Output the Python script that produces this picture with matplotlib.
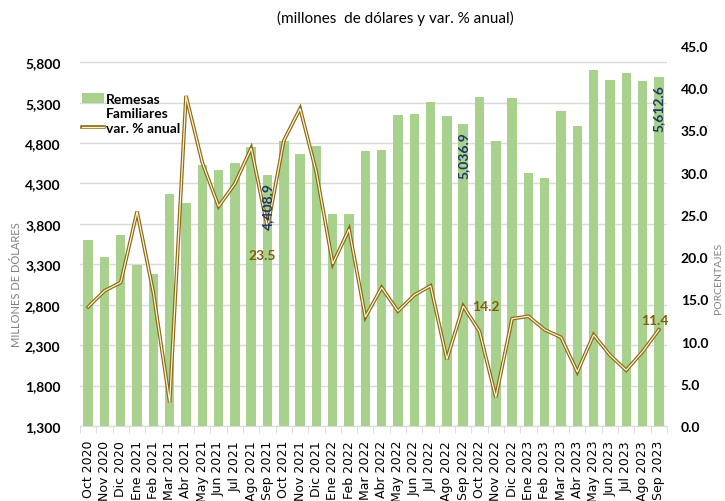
import matplotlib
matplotlib.use("Agg")
import matplotlib.pyplot as plt
from matplotlib.lines import Line2D
from matplotlib.patches import Patch
import numpy as np

months = ["Oct 2020", "Nov 2020", "Dic 2020", "Ene 2021", "Feb 2021", "Mar 2021",
          "Abr 2021", "May 2021", "Jun 2021", "Jul 2021", "Ago 2021", "Sep 2021",
          "Oct 2021", "Nov 2021", "Dic 2021", "Ene 2022", "Feb 2022", "Mar 2022",
          "Abr 2022", "May 2022", "Jun 2022", "Jul 2022", "Ago 2022", "Sep 2022",
          "Oct 2022", "Nov 2022", "Dic 2022", "Ene 2023", "Feb 2023", "Mar 2023",
          "Abr 2023", "May 2023", "Jun 2023", "Jul 2023", "Ago 2023", "Sep 2023"]

remesas = [3605, 3396, 3660, 3296, 3176, 4164, 4057, 4533, 4462, 4549, 4756, 4408.9,
           4830, 4666, 4760, 3925, 3920, 4701, 4718, 5148, 5156, 5309, 5132, 5036.9,
           5367, 4822, 5359, 4429, 4363, 5194, 5008, 5702, 5578, 5661, 5570, 5612.6]

var_anual = [14.1, 16.0, 17.0, 25.4, 15.8, 2.8, 39.1, 31.2, 26.0, 28.7, 32.9, 23.5,
             33.8, 37.6, 30.0, 19.2, 23.3, 12.9, 16.4, 13.6, 15.5, 16.6, 7.9, 14.2,
             11.2, 3.4, 12.7, 13.0, 11.4, 10.5, 6.4, 10.8, 8.4, 6.6, 8.8, 11.4]

left_ticks = list(range(1300, 5801, 500))
right_ticks = [0, 5, 10, 15, 20, 25, 30, 35, 40, 45]

bar_color = "#A9D18E"
gold = "#8B6914"
cream = "#FFF4D2"
blue = "#1F3864"
lab_gold = "#7F6000"

fig = plt.figure(figsize=(7.25, 5.02), dpi=100)
ax = fig.add_axes([80 / 725, 1 - 427 / 502, 587 / 725, 380 / 502])
ax2 = ax.twinx()

x = np.arange(len(months))
ax.bar(x, remesas, width=0.58, color=bar_color, zorder=2)
ax.set_ylim(1300, 6000)
ax.set_xlim(-0.5, len(months) - 0.5)
ax.set_yticks(left_ticks)
ax.set_yticklabels([f"{v:,}" for v in left_ticks], fontfamily="Lato",
                   fontweight="bold", fontsize=10)
ax.grid(axis="y", color="#D9D9D9", linewidth=1, zorder=0)
ax.set_axisbelow(True)
for s in ["top", "left", "right"]:
    ax.spines[s].set_visible(False)
ax.spines["bottom"].set_color("#D9D9D9")
ax.tick_params(axis="y", length=0, pad=14)
ax.set_xticks(x)
ax.set_xticklabels(months, rotation=90, fontsize=9, fontfamily="DejaVu Sans")
ax.set_xticks(np.arange(-0.5, len(months), 1), minor=True)
ax.tick_params(axis="x", which="major", length=0, pad=10)
ax.tick_params(axis="x", which="minor", length=5, color="#D9D9D9")

# double line for var. % anual
ax2.plot(x, var_anual, color=gold, linewidth=2.6, zorder=3, solid_joinstyle="miter")
ax2.plot(x, var_anual, color=cream, linewidth=0.9, zorder=4, solid_joinstyle="miter")
ax2.set_ylim(0, 45)
ax2.set_yticks(right_ticks)
ax2.set_yticklabels([f"{v:.1f}" for v in right_ticks], fontfamily="Lato",
                    fontweight="bold", fontsize=10)
ax2.tick_params(axis="y", length=0, pad=10)
for s in ["top", "left", "right", "bottom"]:
    ax2.spines[s].set_visible(False)

# bar labels (inside end, rotated), drawn above the line
for i in [11, 23, 35]:
    ax2.annotate(f"{remesas[i]:,.1f}", (x[i], remesas[i]), xycoords=ax.transData,
                 xytext=(0, -5), textcoords="offset points", rotation=90,
                 ha="center", va="top", color=blue, fontsize=10,
                 fontweight="bold", fontfamily="Lato", zorder=6)

# line labels
ax2.annotate(f"{var_anual[11]:.1f}", (x[11], var_anual[11]), xytext=(-4, -20),
             textcoords="offset points", ha="center", va="center",
             color=lab_gold, fontsize=10, fontweight="bold", fontfamily="Lato")
ax2.annotate(f"{var_anual[23]:.1f}", (x[23], var_anual[23]), xytext=(16, 0),
             textcoords="offset points", ha="center", va="center",
             color=lab_gold, fontsize=10, fontweight="bold", fontfamily="Lato")
ax2.annotate(f"{var_anual[35]:.1f}", (x[35], var_anual[35]), xytext=(-3, 3),
             textcoords="offset points", ha="center", va="bottom",
             color=lab_gold, fontsize=10, fontweight="bold", fontfamily="Lato")

# legend
h_bar = Patch(facecolor=bar_color)
h_blank = Line2D([], [], color="none")
h_line = (Line2D([], [], color=gold, linewidth=2.6), Line2D([], [], color=cream, linewidth=0.9))
leg = ax2.legend([h_bar, h_blank, h_line], ["Remesas", "Familiares", "var. % anual"],
                 loc="upper left", bbox_to_anchor=(76 / 725, 1 - 88 / 502),
                 bbox_transform=fig.transFigure, frameon=False, handlelength=1.6,
                 handletextpad=0.15, labelspacing=0.2, borderaxespad=0,
                 prop={"family": "Lato", "weight": "bold", "size": 10})

fig.text(395 / 725, 1 - 18 / 502, "(millones  de dólares y var. % anual)",
         ha="center", va="center", fontsize=11, fontfamily="Lato")
fig.text(17 / 725, 1 - 285 / 502, "MILLONES DE DÓLARES", rotation=90,
         ha="center", va="center", fontsize=8, color="#808080", fontfamily="Lato")
fig.text(718 / 725, 1 - 278 / 502, "PORCENTAJES", rotation=90,
         ha="center", va="center", fontsize=7.5, color="#808080", fontfamily="Lato")

fig.savefig("out.png", dpi=100)
